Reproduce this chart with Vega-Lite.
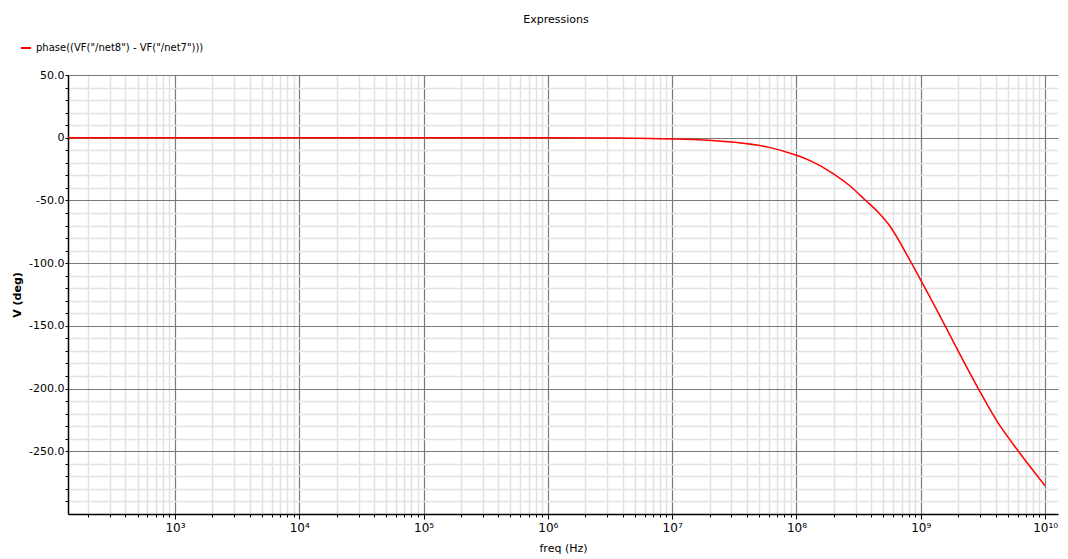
{
  "$schema": "https://vega.github.io/schema/vega-lite/v6.json",
  "width": 990,
  "height": 439,
  "autosize": {"type": "none"},
  "padding": {"left": 68, "top": 75, "right": 10, "bottom": 45},
  "background": "white",
  "title": {"text": "Expressions", "fontSize": 11, "fontWeight": "normal", "font": "DejaVu Sans", "color": "#000000", "anchor": "middle", "frame": "group", "dx": -7, "offset": 17},
  "config": {
    "view": {"stroke": null},
    "font": "DejaVu Sans"
  },
  "data": {
    "values": [
      {"freq": 138, "phase": 0},
      {"freq": 1000, "phase": 0},
      {"freq": 10000, "phase": 0},
      {"freq": 100000, "phase": 0},
      {"freq": 1000000, "phase": 0},
      {"freq": 3500000, "phase": -0.3},
      {"freq": 10000000, "phase": -1.0},
      {"freq": 16000000, "phase": -1.6},
      {"freq": 32000000, "phase": -3.7},
      {"freq": 59000000, "phase": -7.5},
      {"freq": 100000000, "phase": -14},
      {"freq": 130000000, "phase": -18.5},
      {"freq": 200000000, "phase": -29},
      {"freq": 270000000, "phase": -38.5},
      {"freq": 360000000, "phase": -50},
      {"freq": 460000000, "phase": -60},
      {"freq": 560000000, "phase": -70},
      {"freq": 810000000, "phase": -97},
      {"freq": 1000000000, "phase": -113.5},
      {"freq": 1570000000, "phase": -150},
      {"freq": 2070000000, "phase": -173},
      {"freq": 2900000000, "phase": -200},
      {"freq": 4100000000, "phase": -226},
      {"freq": 6100000000, "phase": -250},
      {"freq": 10000000000, "phase": -277.5}
    ]
  },
  "mark": {"type": "line", "strokeWidth": 1.5, "clip": true, "interpolate": "monotone"},
  "encoding": {
    "x": {
      "field": "freq",
      "type": "quantitative",
      "scale": {"type": "log", "domain": [138, 12700000000], "nice": false},
      "axis": {
        "title": "freq (Hz)",
        "titleFontSize": 11,
        "titleFontWeight": "normal",
        "titleColor": "#000000",
        "titlePadding": 9,
        "values": [200,300,400,500,600,700,800,900,1000,2000,3000,4000,5000,6000,7000,8000,9000,10000,20000,30000,40000,50000,60000,70000,80000,90000,100000,200000,300000,400000,500000,600000,700000,800000,900000,1000000,2000000,3000000,4000000,5000000,6000000,7000000,8000000,9000000,10000000,20000000,30000000,40000000,50000000,60000000,70000000,80000000,90000000,100000000,200000000,300000000,400000000,500000000,600000000,700000000,800000000,900000000,1000000000,2000000000,3000000000,4000000000,5000000000,6000000000,7000000000,8000000000,9000000000,10000000000],
        "labelExpr": "abs(log(datum.value)/LN10 - round(log(datum.value)/LN10)) < 0.000001 ? '10' + ['⁰','¹','²','³','⁴','⁵','⁶','⁷','⁸','⁹','¹⁰'][round(log(datum.value)/LN10)] : ''",
        "labelOverlap": false,
        "labelFlush": false,
        "labelBound": false,
        "labelFontSize": 12,
        "labelColor": "#000000",
        "labelPadding": 3,
        "grid": true,
        "gridColor": {"condition": {"test": "abs(log(datum.value)/LN10 - round(log(datum.value)/LN10)) < 0.000001", "value": "#7a7a7a"}, "value": "#e2e2e2"},
        "gridWidth": {"condition": {"test": "abs(log(datum.value)/LN10 - round(log(datum.value)/LN10)) < 0.000001", "value": 1.2}, "value": 1.5},
        "ticks": true,
        "tickSize": {"condition": {"test": "abs(log(datum.value)/LN10 - round(log(datum.value)/LN10)) < 0.000001", "value": 5}, "value": 3},
        "tickColor": "#000000",
        "domain": true,
        "domainColor": "#000000",
        "domainWidth": 1.5
      }
    },
    "y": {
      "field": "phase",
      "type": "quantitative",
      "scale": {"domain": [-300, 50], "nice": false, "zero": false},
      "axis": {
        "title": "V (deg)",
        "titleFontSize": 11,
        "titleFontWeight": "bold",
        "titleColor": "#000000",
        "titlePadding": 6,
        "values": [-290,-280,-270,-260,-250,-240,-230,-220,-210,-200,-190,-180,-170,-160,-150,-140,-130,-120,-110,-100,-90,-80,-70,-60,-50,-40,-30,-20,-10,0,10,20,30,40,50],
        "labelExpr": "datum.value % 50 == 0 ? (datum.value == 0 ? '0' : (datum.value < 0 ? '-' : '') + format(abs(datum.value), '.1f')) : ''",
        "labelOverlap": false,
        "labelFlush": false,
        "labelBound": false,
        "labelFontSize": 11,
        "labelColor": "#000000",
        "labelPadding": 1,
        "grid": true,
        "gridColor": {"condition": {"test": "datum.value % 50 == 0", "value": "#7a7a7a"}, "value": "#e2e2e2"},
        "gridWidth": {"condition": {"test": "datum.value % 50 == 0", "value": 1.2}, "value": 1.5},
        "ticks": true,
        "tickSize": 3,
        "tickColor": "#000000",
        "domain": true,
        "domainColor": "#000000",
        "domainWidth": 1.5
      }
    },
    "color": {
      "datum": "phase((VF(\"/net8\") - VF(\"/net7\")))",
      "type": "nominal",
      "scale": {"range": ["#ff0000"]},
      "legend": {
        "title": null,
        "orient": "none",
        "legendX": -48,
        "legendY": -33,
        "symbolType": "stroke",
        "symbolStrokeWidth": 2,
        "symbolSize": 100,
        "labelFontSize": 10,
        "labelLimit": 500,
        "labelColor": "#000000",
        "labelOffset": 4,
        "padding": 0
      }
    }
  }
}
